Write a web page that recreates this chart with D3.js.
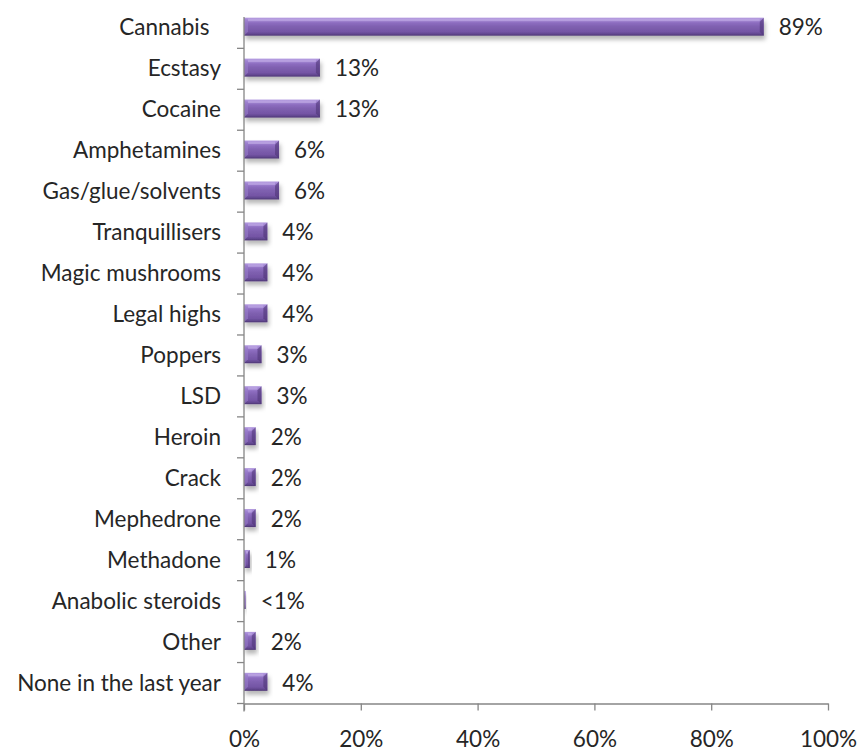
<!DOCTYPE html>
<html>
<head>
<meta charset="utf-8">
<script src="https://cdn.jsdelivr.net/npm/d3@7"></script>
<style>
  html, body { margin: 0; padding: 0; background: #fff; }
  svg { display: block; }
  text { font-family: Lato, "Open Sans", sans-serif; fill: #262626; }
</style>
</head>
<body>
<svg id="chart" width="861" height="754"></svg>
<script>
// Substances used in the last year (share of respondents)
const categories = [
  "Cannabis\u00a0\u00a0", "Ecstasy", "Cocaine", "Amphetamines", "Gas/glue/solvents",
  "Tranquillisers", "Magic mushrooms", "Legal highs", "Poppers", "LSD",
  "Heroin", "Crack", "Mephedrone", "Methadone", "Anabolic steroids",
  "Other", "None in the last year"
];
const values = [89, 13, 13, 6, 6, 4, 4, 4, 3, 3, 2, 2, 2, 1, 0.3, 2, 4];
const valueLabels = ["89%", "13%", "13%", "6%", "6%", "4%", "4%", "4%", "3%", "3%",
  "2%", "2%", "2%", "1%", "<1%", "2%", "4%"];
const xTicks = [0, 20, 40, 60, 80, 100];

const svg = d3.select("#chart");
const plot = { left: 244, right: 828, top: 7.4, bottom: 703.5 };
const fontSize = 22.5;

const x = d3.scaleLinear().domain([0, 100]).range([plot.left, plot.right]);
const y = d3.scaleBand().domain(categories).range([plot.top, plot.bottom]).paddingInner(0.56).paddingOuter(0.28);

const defs = svg.append("defs");
const grad = defs.append("linearGradient").attr("id", "barFill")
  .attr("x1", 0).attr("y1", 0).attr("x2", 0).attr("y2", 1);
[
  [0, "#b49ce0"], [0.12, "#a386d4"], [0.3, "#8c6cbf"], [0.5, "#7f60b0"],
  [0.78, "#7455a5"], [0.9, "#634891"], [1, "#4c3573"]
].forEach(([o, c]) => grad.append("stop").attr("offset", o).attr("stop-color", c));

const shadow = defs.append("filter").attr("id", "barShadow")
  .attr("x", "-10%").attr("y", "-30%").attr("width", "130%").attr("height", "190%");
shadow.append("feDropShadow").attr("dx", 1.5).attr("dy", 4).attr("stdDeviation", 2)
  .attr("flood-color", "#000").attr("flood-opacity", 0.28);

const axisColor = "#868686";

// bars
const bars = svg.append("g");
const bh = y.bandwidth();
categories.forEach((c, i) => {
  const x0 = x(0), x1 = x(values[i]);
  const y0 = y(c) - 1.2, w = x1 - x0;
  const g = bars.append("g").attr("filter", "url(#barShadow)");
  g.append("rect").attr("x", x0).attr("y", y0).attr("width", w).attr("height", bh)
    .attr("fill", "url(#barFill)");
  const bev = Math.min(4, w / 3);
  if (w > 4) {
    // bevelled ends
    g.append("path")
      .attr("d", `M${x0},${y0} L${x0 + bev},${y0 + bev} L${x0 + bev},${y0 + bh - bev} L${x0},${y0 + bh} Z`)
      .attr("fill", "#9a80cc").attr("opacity", 0.55);
    g.append("path")
      .attr("d", `M${x1},${y0} L${x1 - bev},${y0 + bev} L${x1 - bev},${y0 + bh - bev} L${x1},${y0 + bh} Z`)
      .attr("fill", "#4e3677").attr("opacity", 0.6);
    // top highlight strip
    g.append("rect").attr("x", x0 + bev).attr("y", y0 + 1).attr("width", Math.max(0, w - 2 * bev)).attr("height", 2.5)
      .attr("fill", "#c6b3ea").attr("opacity", 0.55);
  }
});

// value labels
svg.append("g").selectAll("text").data(categories).join("text")
  .attr("x", (c, i) => x(values[i]) + 15)
  .attr("y", c => y(c) + bh / 2 + 7.5)
  .attr("font-size", fontSize)
  .text((c, i) => valueLabels[i]);

// category axis
const yAxisG = svg.append("g");
yAxisG.append("line").attr("x1", plot.left).attr("x2", plot.left)
  .attr("y1", 17).attr("y2", plot.bottom + 8).attr("stroke", axisColor).attr("stroke-width", 1.3);
const bounds = d3.range(1, categories.length + 1).map(k => plot.top + k * y.step());
yAxisG.selectAll("line.tick").data(bounds).join("line").attr("class", "tick")
  .attr("x1", plot.left - 7).attr("x2", plot.left)
  .attr("y1", d => d).attr("y2", d => d)
  .attr("stroke", axisColor).attr("stroke-width", 1.3);
yAxisG.selectAll("text").data(categories).join("text")
  .attr("x", plot.left - 23)
  .attr("y", c => y(c) + bh / 2 + 7.5)
  .attr("text-anchor", "end")
  .attr("font-size", fontSize)
  .text(c => c);

// value axis
const xAxis = d3.axisBottom(x).tickValues(xTicks).tickFormat(d => d + "%").tickSize(7).tickSizeOuter(0);
const xg = svg.append("g").attr("transform", `translate(0,${plot.bottom})`).call(xAxis);
xg.select(".domain").attr("stroke", axisColor).attr("stroke-width", 1.3);
xg.selectAll(".tick line").attr("stroke", axisColor).attr("stroke-width", 1.3);
xg.selectAll(".tick text").attr("font-size", fontSize).attr("font-family", "Lato, sans-serif")
  .attr("fill", "#262626").attr("dy", 0).attr("y", 43.5);
</script>
</body>
</html>
